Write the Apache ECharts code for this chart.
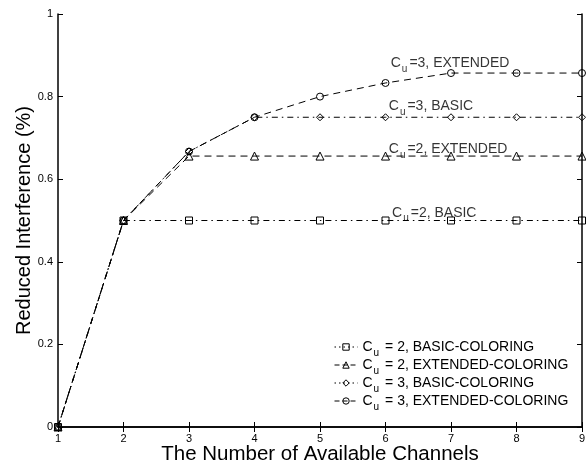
<!DOCTYPE html>
<html>
<head>
<meta charset="utf-8">
<script src="https://cdn.jsdelivr.net/npm/echarts@6/dist/echarts.min.js"></script>
<style>
  html, body { margin: 0; padding: 0; background: #fff; }
  #chart { width: 586px; height: 465px; }
</style>
</head>
<body>
<div id="chart"></div>
<script>
// Number of available channels (x) and reduced interference fraction (y)
const channels = [1, 2, 3, 4, 5, 6, 7, 8, 9];
const cu2Basic = [0, 0.5, 0.5, 0.5, 0.5, 0.5, 0.5, 0.5, 0.5];
const cu2Extended = [0, 0.5, 0.656, 0.656, 0.656, 0.656, 0.656, 0.656, 0.656];
const cu3Basic = [0, 0.5, 0.667, 0.75, 0.75, 0.75, 0.75, 0.75, 0.75];
const cu3Extended = [0, 0.5, 0.667, 0.75, 0.8, 0.833, 0.857, 0.857, 0.857];

const seriesNames = [
  'C_u = 2, BASIC-COLORING',
  'C_u = 2, EXTENDED-COLORING',
  'C_u = 3, BASIC-COLORING',
  'C_u = 3, EXTENDED-COLORING'
];
const xTickLabels = ['1', '2', '3', '4', '5', '6', '7', '8', '9'];
const yTickLabels = ['0', '0.2', '0.4', '0.6', '0.8', '1'];

// Curve labels placed next to the flat part of each curve
const curveNotes = [
  { text: 'C_u=3, EXTENDED', at: [6.08, 0.881] },
  { text: 'C_u=3, BASIC',    at: [6.05, 0.777] },
  { text: 'C_u=2, EXTENDED', at: [6.05, 0.673] },
  { text: 'C_u=2, BASIC',    at: [6.10, 0.519] }
];

const FONT = '"Liberation Sans", Arial, Helvetica, sans-serif';
const INK = '#000';
const DASH = [7, 5];
const DASH_DOT = [6, 4, 1.5, 4];
const LEGEND_DASH = [5, 3];
const LEGEND_DASH_DOT = [1.5, 3];

function pairs(ys) { return channels.map((x, i) => [x, ys[i]]); }

const subRich = {
  base: { fontFamily: FONT, fontSize: 14, color: INK },
  sub: { fontFamily: FONT, fontSize: 10, color: INK, padding: [12, 2, 0, 1] }
};
function richText(s) {
  const parts = s.split('C_u');
  return '{base|C}{sub|u}{base|' + parts[1] + '}';
}

function curve(name, ys, symbol, dash) {
  return {
    name: name,
    type: 'line',
    data: pairs(ys),
    symbol: symbol,
    symbolSize: symbol === 'triangle' ? 8 : 7,
    showAllSymbol: true,
    lineStyle: { color: INK, width: 1, type: dash },
    itemStyle: { color: 'rgba(0,0,0,0)', borderColor: INK, borderWidth: 1 },
    emphasis: { disabled: true },
    z: 3
  };
}

const legendDashes = [LEGEND_DASH_DOT, LEGEND_DASH, LEGEND_DASH_DOT, LEGEND_DASH];

const chart = echarts.init(document.getElementById('chart'), null, { renderer: 'canvas' });

const option = {
  animation: false,
  backgroundColor: '#fff',
  textStyle: { fontFamily: FONT },
  grid: {
    left: 58, right: 4, top: 14, bottom: 38,
    containLabel: false,
    outerBoundsMode: 'none'
  },
  legend: {
    orient: 'vertical',
    left: 329,
    top: 335,
    itemWidth: 23,
    itemHeight: 8,
    itemGap: 0,
    data: seriesNames.map((n, i) => ({
      name: n,
      lineStyle: { color: INK, width: 1, type: legendDashes[i] },
      itemStyle: { color: 'rgba(0,0,0,0)', borderColor: INK, borderWidth: 1 }
    })),
    formatter: richText,
    textStyle: { rich: subRich },
    selectedMode: false
  },
  xAxis: [
    {
      type: 'value', min: 1, max: 9, interval: 1,
      name: 'The Number of Available Channels',
      nameLocation: 'middle', nameGap: 17, nameMoveOverlap: false,
      nameTextStyle: { fontFamily: FONT, fontSize: 20.5, color: INK },
      axisLine: { lineStyle: { color: INK, width: 1.5 } },
      axisTick: { inside: true, length: 5, lineStyle: { color: INK } },
      axisLabel: {
        fontFamily: FONT, fontSize: 11, color: INK, margin: 6,
        formatter: v => xTickLabels[Math.round(v) - 1]
      },
      splitLine: { show: false }
    },
    {
      type: 'value', min: 1, max: 9, interval: 1, position: 'top',
      axisLine: { lineStyle: { color: INK, width: 1.5 } },
      axisTick: { inside: true, length: 5, lineStyle: { color: INK } },
      axisLabel: { show: false },
      splitLine: { show: false }
    }
  ],
  yAxis: [
    {
      type: 'value', min: 0, max: 1, interval: 0.2,
      name: 'Reduced Interference (%)',
      nameLocation: 'middle', nameGap: 24, nameMoveOverlap: false,
      nameTextStyle: { fontFamily: FONT, fontSize: 20, color: INK },
      axisLine: { lineStyle: { color: INK, width: 1.5 } },
      axisTick: { inside: true, length: 5, lineStyle: { color: INK } },
      axisLabel: {
        fontFamily: FONT, fontSize: 11, color: INK, margin: 5,
        formatter: v => yTickLabels[Math.round(v * 5)]
      },
      splitLine: { show: false }
    },
    {
      type: 'value', min: 0, max: 1, interval: 0.2, position: 'right',
      axisLine: { lineStyle: { color: INK, width: 1.5 } },
      axisTick: { inside: true, length: 5, lineStyle: { color: INK } },
      axisLabel: { show: false },
      splitLine: { show: false }
    }
  ],
  series: [
    curve(seriesNames[0], cu2Basic, 'rect', DASH_DOT),
    curve(seriesNames[1], cu2Extended, 'triangle', DASH),
    curve(seriesNames[2], cu3Basic, 'diamond', DASH_DOT),
    curve(seriesNames[3], cu3Extended, 'circle', DASH),
    {
      name: 'notes',
      type: 'scatter',
      symbolSize: 0,
      silent: true,
      data: curveNotes.map(n => ({ value: n.at, text: n.text })),
      label: {
        show: true,
        position: 'right',
        distance: 0,
        formatter: p => richText(p.data.text),
        rich: subRich
      },
      z: 5
    }
  ]
};

chart.setOption(option);
</script>
</body>
</html>
